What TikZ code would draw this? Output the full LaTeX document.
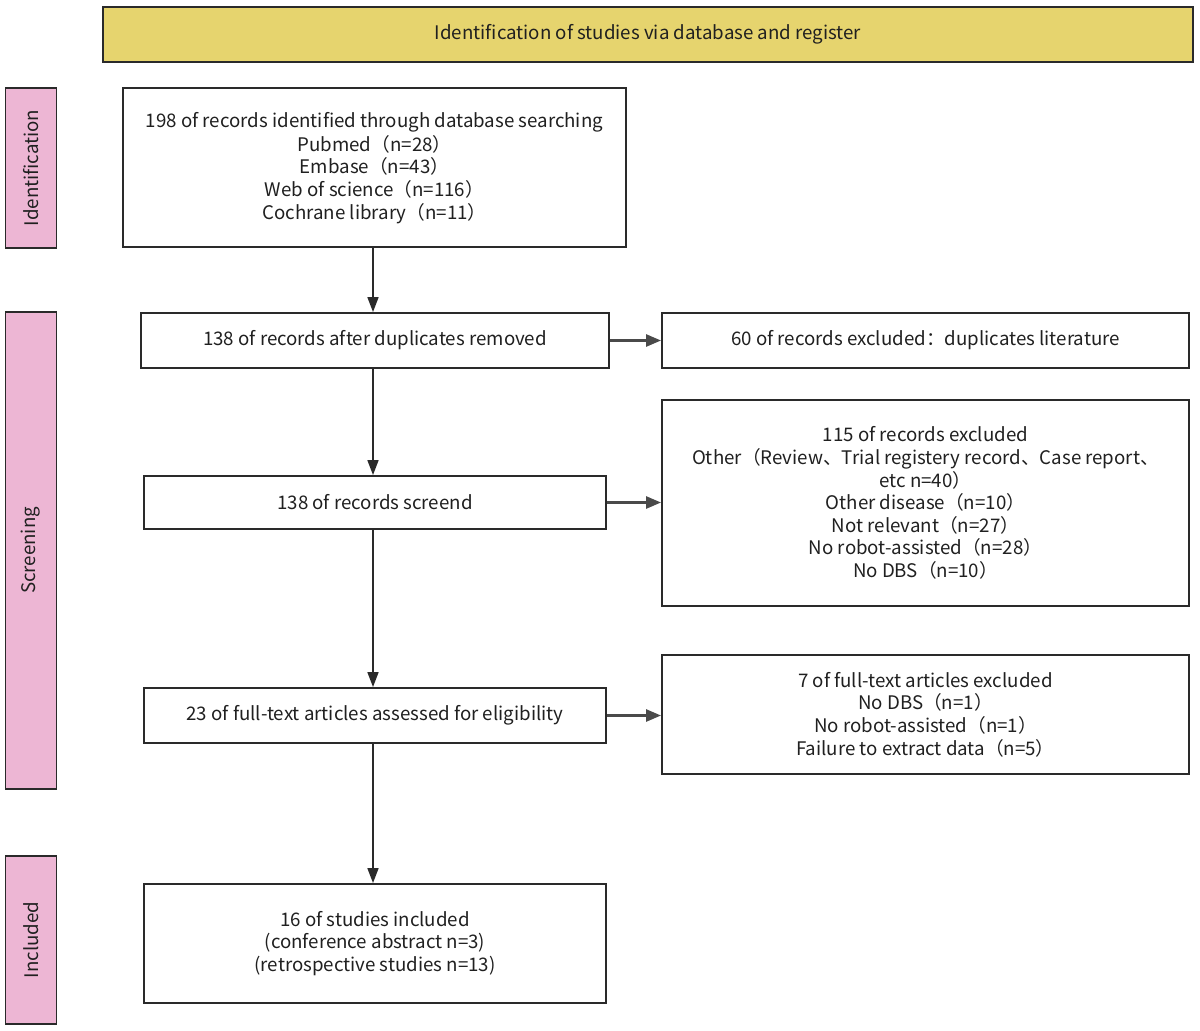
\documentclass[tikz,border=0pt]{standalone}
\usepackage{fontspec}
\setmainfont{Noto Sans CJK SC}
\usetikzlibrary{arrows.meta}
\definecolor{hdr}{HTML}{E6D46E}
\definecolor{tagpink}{HTML}{EDB6D4}
\definecolor{edge}{HTML}{2A2A2A}
\definecolor{txt}{HTML}{202020}
\begin{document}
\begin{tikzpicture}[x=1pt,y=-1pt,
  box/.style={draw=edge, line width=1.9pt, fill=white, inner sep=0pt, align=center,
    text=txt, font=\fontsize{18.7}{22.6}\selectfont},
  tag/.style={draw=edge, line width=1.9pt, fill=tagpink, inner sep=0pt, rotate=90,
    text=txt, font=\fontsize{18.7}{20}\selectfont},
  head/.style={draw=edge, line width=1.9pt, fill=hdr, inner sep=0pt,
    text=txt, font=\fontsize{18.7}{20}\selectfont},
  arr/.style={draw=edge, line width=1.7pt, -{Triangle[length=15pt,width=11pt]}},
  harr/.style={draw=edge!85, line width=2.6pt, -{Triangle[length=15pt,width=12pt]}}]
\useasboundingbox (0,0) rectangle (1200,1031);
\fill[white] (0,0) rectangle (1200,1031);
% header
\node[head, minimum width=1090pt, minimum height=55pt] (hd) at (648,34.5)
  {Identification of studies via database and register};
% side tags
\node[tag, minimum width=160pt, minimum height=51pt] (tid) at (31,168) {Identification};
\node[tag, minimum width=477pt, minimum height=51pt] (tsc) at (31,550.5) {Screening};
\node[tag, minimum width=168pt, minimum height=51pt] (tin) at (31,940) {Included};
% main column
\node[box, minimum width=503pt, minimum height=159pt] (b1) at (374.5,167.5)
  {\strut 198 of records identified through database searching\\
   Pubmed（n=28）\\ Embase（n=43）\\ Web of science（n=116）\\ Cochrane library（n=11）};
\node[box, minimum width=468pt, minimum height=55pt] (b2) at (375,340.5)
  {138 of records after duplicates removed};
\node[box, minimum width=462pt, minimum height=53pt] (b3) at (375,502.5)
  {138 of records screend};
\node[box, minimum width=462pt, minimum height=55pt] (b4) at (375,715.5)
  {23 of full-text articles assessed for eligibility};
\node[box, minimum width=462pt, minimum height=119pt] (b5) at (375,943.5)
  {16 of studies included\\ (conference abstract n=3)\\ (retrospective studies n=13)};
% exclusion column
\node[box, minimum width=527pt, minimum height=55pt] (e1) at (925.5,340.5)
  {60 of records excluded：duplicates literature};
\node[box, minimum width=527pt, minimum height=206pt] (e2) at (925.5,503)
  {115 of records excluded\\
   Other（Review、Trial registery record、Case report、\\ etc n=40）\\
   Other disease（n=10）\\ Not relevant（n=27）\\ No robot-assisted（n=28）\\ No DBS（n=10）};
\node[box, minimum width=527pt, minimum height=119pt] (e3) at (925.5,714.5)
  {7 of full-text articles excluded\\ No DBS（n=1）\\ No robot-assisted（n=1）\\ Failure to extract data（n=5）};
% connectors
\draw[arr] (b1.south -| 373,0) -- (b2.north -| 373,0);
\draw[arr] (b2.south -| 373,0) -- (b3.north -| 373,0);
\draw[arr] (b3.south -| 373,0) -- (b4.north -| 373,0);
\draw[arr] (b4.south -| 373,0) -- (b5.north -| 373,0);
\draw[harr] (b2.east) -- (e1.west);
\draw[harr] (b3.east) -- (b3.east -| e2.west);
\draw[harr] (b4.east) -- (b4.east -| e3.west);
\end{tikzpicture}
\end{document}
